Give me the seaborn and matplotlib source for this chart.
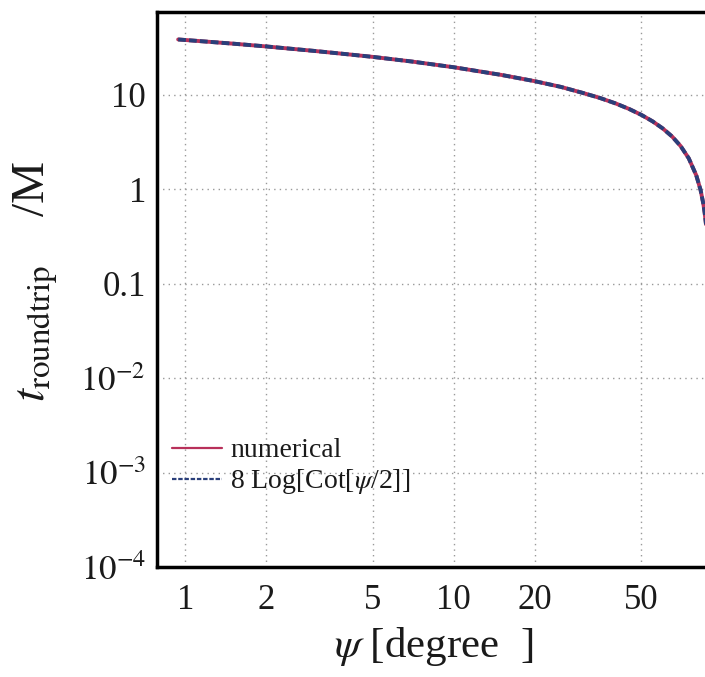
import numpy as np
import pandas as pd
import seaborn as sns
from matplotlib import pyplot as plt
from matplotlib.ticker import FixedLocator, FixedFormatter, NullFormatter

# curve values (psi in degrees, t in units of M)
psi_deg = [0.94, 1, 1.5, 2, 3, 4, 5, 7, 10, 15, 20, 25, 30, 35, 40, 45, 50, 55,
           60, 65, 70, 75, 80, 83, 85, 86, 87, 88, 88.5, 89, 89.5, 89.9]
t_numerical = [38.4, 37.9, 34.7, 32.4, 29.1, 26.8, 25.1, 22.4, 19.5, 16.2, 13.9, 12.1,
               10.5, 9.23, 8.09, 7.05, 6.10, 5.22, 4.39, 3.61, 2.85, 2.12, 1.40, 0.98,
               0.70, 0.559, 0.419, 0.279, 0.209, 0.140, 0.0698, 0.0140]
t_analytic = [38.4, 37.9, 34.7, 32.4, 29.1, 26.8, 25.1, 22.4, 19.5, 16.2, 13.9, 12.1,
              10.5, 9.23, 8.09, 7.05, 6.10, 5.22, 4.39, 3.61, 2.85, 2.12, 1.40, 0.98,
              0.70, 0.559, 0.419, 0.279, 0.209, 0.140, 0.0698, 0.0140]

x_ticks = [1, 2, 5, 10, 20, 50]
x_ticklabels = ["1", "2", "5", "10", "20", "50"]
y_ticks = [1e-4, 1e-3, 1e-2, 0.1, 1, 10]
y_ticklabels = [r"$10^{-4}$", r"$10^{-3}$", r"$10^{-2}$", "0.1", "1", "10"]

sns.set_theme(style="white")
plt.rcParams["font.family"] = ["Liberation Serif", "DejaVu Serif"]
plt.rcParams["mathtext.fontset"] = "stix"

df = pd.DataFrame({"psi": psi_deg, "num": t_numerical, "ana": t_analytic})

fig = plt.figure(figsize=(7.05, 6.77), dpi=100)
# right edge sits just past the canvas, like the cropped original
ax = fig.add_axes([157 / 705, 1 - 567 / 677, 553 / 705, 555 / 677])

sns.lineplot(data=df, x="psi", y="num", ax=ax, color="#b8305a", lw=2.8,
             label="numerical")
sns.lineplot(data=df, x="psi", y="ana", ax=ax, color="#2a3f7a", lw=2.8,
             linestyle=(0, (2, 0.8)), label=r"8 Log[Cot[$\psi$/2]]")

ax.set_xscale("log")
ax.set_yscale("log")
ax.set_xlim(0.784, 90)
ax.set_ylim(1e-4, 75)

ax.xaxis.set_major_locator(FixedLocator(x_ticks))
ax.xaxis.set_major_formatter(FixedFormatter(x_ticklabels))
ax.xaxis.set_minor_formatter(NullFormatter())
ax.yaxis.set_major_locator(FixedLocator(y_ticks))
ax.yaxis.set_major_formatter(FixedFormatter(y_ticklabels))
ax.yaxis.set_minor_formatter(NullFormatter())

ax.tick_params(which="major", length=0, labelsize=25, colors="#1a1a1a")
ax.tick_params(axis="x", which="major", pad=12)
ax.tick_params(axis="y", which="major", pad=8)
ax.tick_params(which="minor", direction="in", length=3, width=0.6, color="#bbbbbb")

ax.grid(True, which="major", linestyle=(0, (1, 3)), color="#999999", lw=1.0)

for side in ["left", "bottom", "top", "right"]:
    ax.spines[side].set_linewidth(2.5)
    ax.spines[side].set_color("black")

ax.set_xlabel(r"$\psi$ [degree  ]", fontsize=31, color="#1a1a1a", labelpad=6)
ax.set_ylabel(r"$t_{\rm roundtrip}$    /M", fontsize=34, color="#1a1a1a")
ax.yaxis.set_label_coords(-0.175, 0.515)

leg = ax.legend(loc="center left", bbox_to_anchor=(0.027, 0.18), frameon=False,
                fontsize=20, borderpad=0, borderaxespad=0, handlelength=1.8,
                handletextpad=0.3, labelspacing=0.15)
for line in leg.get_lines():
    line.set_linewidth(1.6)
for text in leg.get_texts():
    text.set_color("#1a1a1a")

fig.savefig("out.png", dpi=100)
